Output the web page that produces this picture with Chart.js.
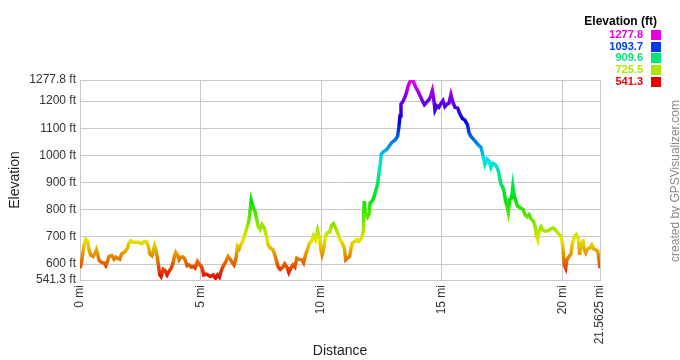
<!DOCTYPE html>
<html><head><meta charset="utf-8">
<script src="https://cdn.jsdelivr.net/npm/chart.js@4.4.0/dist/chart.umd.min.js"></script>
<style>html,body{margin:0;padding:0;background:#fff;}#wrap{width:680px;height:360px;}</style>
</head><body><div id="wrap"><canvas id="c" width="680" height="360"></canvas></div>
<script>
const distanceMi = [
  0,0.07,0.13,0.17,0.24, 0.32,0.37,0.44,0.54,0.62, 0.68,0.73,0.79,0.90,1.00, 1.07,1.14,1.20,1.32,1.41,
  1.48,1.55,1.65,1.73,1.83, 1.90,1.97,2.03,2.10,2.20, 2.31,2.45,2.56,2.66,2.75, 2.84,2.89,2.98,3.03,3.09,
  3.14,3.20,3.25,3.31,3.36, 3.45,3.53,3.61,3.69,3.78, 3.86,3.92,3.97,4.04,4.11, 4.19,4.28,4.36,4.44,4.52,
  4.61,4.69,4.77,4.87,4.97, 5.05,5.13,5.24,
  5.42,5.52,5.62,5.70,5.78, 5.87,5.95,6.03,6.14,6.23, 6.31,6.39,6.47,6.53,6.60, 6.67,6.75,6.83,6.92,7.00,
  7.06,7.10,7.17,7.25,7.32, 7.39,7.47,7.55,7.64,7.72, 7.80,7.89,8.00,8.08,8.15, 8.22,8.30,8.41,8.49,8.58,
  8.66,8.74,8.83,8.91,8.99, 9.07,9.19,9.27,9.35,9.43, 9.52,9.60,9.68,9.77,9.85, 9.93,9.99,10.04,10.10,10.18,
  10.26,10.35,10.43,10.51,10.60, 10.71,
  10.78,10.87,10.96,11.02,11.09, 11.18,11.23,11.29,11.40,11.48, 11.56,11.68,11.74,11.76,11.79, 11.84,11.92,11.99,12.03,12.12,
  12.20,12.28,12.34,12.39,12.45, 12.49,12.59,12.71,12.82,12.92, 13.06,13.17,13.22,13.27,13.31, 13.39,13.47,13.54,13.61,13.72,
  13.82,13.92,14.00,14.10,14.19, 14.28,14.37,14.47,14.55,14.61, 14.66,14.72,14.80,14.88,14.97, 15.05,15.13,15.22,15.30,15.38,
  15.46,15.55,15.66,15.74,15.85, 15.96,
  16.07,16.13,16.21,16.31,16.41, 16.52,16.63,16.68,16.74,16.79, 16.88,16.96,17.04,17.12,17.21, 17.29,17.35,17.40,17.46,17.54,
  17.59,17.65,17.71,17.76,17.82, 17.90,17.95,18.01,18.07,18.15, 18.26,18.37,18.45,18.54,18.62, 18.70,18.80,18.87,18.92,18.98,
  19.03,19.12,19.20,19.31,19.42, 19.53,19.63,19.73,19.84,19.95, 20.00,20.04,20.08,20.14,20.19, 20.28,20.36,20.42,20.50,20.58,
  20.66,20.72,20.77,20.86,20.91, 20.97,21.05,21.14,21.22,21.30, 21.38,21.47,21.52,21.5625
];
const elevationFt = [
  585,610,647,671,690, 684,653,634,628,638, 653,638,613,606,604, 594,610,628,631,618,
  626,622,618,638,643, 650,659,678,686,680, 680,680,675,683,683, 665,638,631,647,668,
  653,628,597,560,554, 581,576,560,573,585, 604,631,643,634,616, 626,626,616,594,597,
  589,591,585,610,597, 589,560,563,
  554,560,548,560,552, 579,594,606,628,618, 606,597,622,665,656, 671,684,708,733,758,
  801,835,813,795,767, 739,727,745,733,708, 671,659,653,634,610, 589,581,589,601,589,
  569,585,597,589,622, 618,616,604,634,653, 678,684,705,690,724, 696,653,634,653,702,
  715,717,742,749,733, 708,
  690,678,659,616,622, 628,653,678,684,690, 684,696,721,782,832, 782,772,785,825,832,
  850,875,893,930,967, 1004,1014,1021,1034,1047, 1056,1071,1102,1146,1189, 1199,1214,1232,1257,1277.8,
  1273,1251,1239,1220,1202, 1187,1196,1205,1220,1239, 1214,1167,1183,1177,1192, 1202,1180,1189,1192,1224,
  1196,1177,1174,1155,1137, 1130,
  1112,1084,1070,1060,1050, 1038,1029,1011,986,967, 986,980,955,971,967, 955,943,918,893,881,
  863,832,813,791,838, 844,887,850,832,813, 807,801,782,774,782, 767,758,739,702,690,
  721,737,724,721,723, 730,733,724,712,702, 678,641,597,585,616, 628,638,678,700,708,
  696,634,678,684,653, 641,656,659,671,656, 653,647,616,585
];
const xTickValues = [0, 5, 10, 15, 20, 21.5625];
const yTickValues = [541.3, 600, 700, 800, 900, 1000, 1100, 1200, 1277.8];
const legendTitle = 'Elevation (ft)';
const legendValues = ['1277.8', '1093.7', '909.6', '725.5', '541.3'];
const legendColors = ['#e600e6', '#0039e6', '#00e673', '#ace600', '#e60000'];
const yMin = 541.3, yMax = 1277.8, xMax = 21.5625;
const FONT = '"Liberation Sans", Arial, sans-serif';

const points = distanceMi.map((d, i) => ({x: d, y: elevationFt[i]}));

function lineGradient(ctx) {
  const chart = ctx.chart;
  const ys = chart.scales && chart.scales.y;
  if (!chart.chartArea || !ys) return '#e60000';
  const y0 = ys.getPixelForValue(yMin), y1 = ys.getPixelForValue(yMax);
  const g = chart.ctx.createLinearGradient(0, y0, 0, y1);
  for (let i = 0; i <= 20; i++) {
    const t = i / 20;
    g.addColorStop(t, 'hsl(' + (300 * t) + ',100%,45%)');
  }
  return g;
}

const extras = {
  id: 'extras',
  afterDraw(chart) {
    const c = chart.ctx;
    c.save();
    c.textBaseline = 'middle';
    c.textAlign = 'right';
    c.font = 'bold 12px ' + FONT;
    c.fillStyle = '#000';
    c.fillText(legendTitle, 657, 22);
    c.font = 'bold 11px ' + FONT;
    legendValues.forEach((v, i) => {
      const y = 35 + i * 11.7;
      c.fillStyle = legendColors[i];
      c.fillText(v, 643, y);
      c.fillRect(651, Math.round(y - 5), 10, 10);
    });
    c.translate(676, 181);
    c.rotate(-Math.PI / 2);
    c.textAlign = 'center';
    c.font = '12px ' + FONT;
    c.fillStyle = '#8a8a8a';
    c.fillText('created by GPSVisualizer.com', 0, 0);
    c.restore();
  }
};

new Chart(document.getElementById('c'), {
  type: 'line',
  data: {
    datasets: [{
      data: points,
      borderColor: lineGradient,
      borderWidth: 3.5,
      pointRadius: 0,
      tension: 0,
      fill: false
    }]
  },
  options: {
    responsive: false,
    animation: false,
    devicePixelRatio: 1,
    layout: {padding: {left: 0, right: 80, top: 80, bottom: 0}},
    plugins: {legend: {display: false}, tooltip: {enabled: false}},
    scales: {
      x: {
        type: 'linear', min: 0, max: xMax,
        afterBuildTicks: s => { s.ticks = xTickValues.map(v => ({value: v})); },
        afterFit: s => { s.height = 80; },
        ticks: {
          autoSkip: false, maxRotation: 90, minRotation: 90, padding: 5,
          color: '#333', font: {family: FONT, size: 12},
          callback: v => v + ' mi'
        },
        grid: {color: '#c8c8c8', drawTicks: false, lineWidth: 1},
        border: {color: '#c8c8c8'},
        title: {display: true, text: 'Distance', color: '#222', font: {family: FONT, size: 14}, padding: {top: 0, bottom: 0}}
      },
      y: {
        type: 'linear', min: yMin, max: yMax,
        afterBuildTicks: s => { s.ticks = yTickValues.map(v => ({value: v})); },
        afterFit: s => { s.width = 80; },
        ticks: {
          padding: 4, color: '#333', font: {family: FONT, size: 12},
          callback: v => v + ' ft'
        },
        grid: {color: '#c8c8c8', drawTicks: false, lineWidth: 1},
        border: {color: '#c8c8c8'},
        title: {display: true, text: 'Elevation', color: '#222', font: {family: FONT, size: 14}, padding: {top: 7, bottom: 0}}
      }
    }
  },
  plugins: [extras]
});
</script>
</body></html>
